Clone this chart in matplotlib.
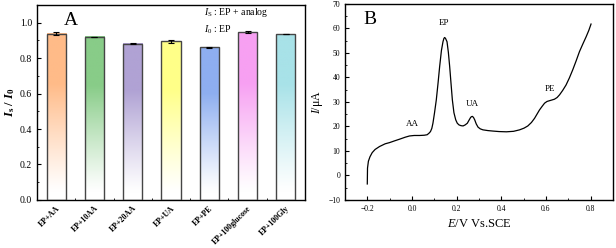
import numpy as np
import matplotlib
matplotlib.use("Agg")
import matplotlib.pyplot as plt
from matplotlib.colors import to_rgb
from matplotlib.ticker import MultipleLocator

plt.rcParams["font.family"] = ["Liberation Serif", "DejaVu Serif"]
plt.rcParams["mathtext.fontset"] = "custom"
plt.rcParams["mathtext.rm"] = "Liberation Serif"
plt.rcParams["mathtext.it"] = "Liberation Serif:italic"
plt.rcParams["mathtext.bf"] = "Liberation Serif:bold"
plt.rcParams["mathtext.bfit"] = "Liberation Serif:bold:italic"

# panel A: selectivity
labels = ["EP+AA", "EP+10AA", "EP+20AA", "EP+UA", "EP+PE", "EP+100glucose", "EP+100Gly"]
ratio = [0.938, 0.921, 0.882, 0.895, 0.860, 0.948, 0.936]
ratio_err = [0.008, 0.001, 0.004, 0.010, 0.004, 0.007, 0.002]
bar_colors = ["#ffbb88", "#88cc88", "#b0a2d4", "#ffff88", "#8eaef0", "#f7a0f2", "#a8e2e8"]

# panel B: DPV curve
potential = [-0.200, -0.199, -0.195, -0.188, -0.178, -0.165, -0.145, -0.120, -0.100, -0.078,
             -0.055, -0.030, -0.011, 0.010, 0.034, 0.055, 0.068, 0.076, 0.083, 0.089,
             0.094, 0.101, 0.109, 0.117, 0.124, 0.132, 0.139, 0.143, 0.146, 0.150,
             0.157, 0.163, 0.169, 0.175, 0.181, 0.188, 0.196, 0.203, 0.211, 0.220,
             0.229, 0.238, 0.248, 0.256, 0.263, 0.267, 0.271, 0.276, 0.281, 0.288,
             0.296, 0.306, 0.318, 0.340, 0.363, 0.390, 0.423, 0.455, 0.482, 0.502,
             0.519, 0.535, 0.549, 0.560, 0.571, 0.583, 0.594, 0.605, 0.616, 0.627,
             0.638, 0.650, 0.661, 0.675, 0.690, 0.705, 0.720, 0.735, 0.750, 0.765,
             0.780, 0.792, 0.802]
current = [-3.5, 3.0, 5.8, 7.6, 9.3, 10.6, 11.8, 12.9, 13.4, 14.1,
           14.8, 15.6, 16.1, 16.3, 16.3, 16.4, 16.6, 17.2, 17.9, 19.2,
           21.3, 25.5, 30.8, 37.8, 44.4, 51.0, 54.6, 55.9, 56.3, 56.0,
           54.6, 50.3, 44.4, 37.5, 30.8, 25.6, 22.7, 21.3, 20.6, 20.3,
           20.2, 20.6, 21.3, 22.6, 23.7, 24.0, 24.1, 23.6, 22.7, 21.0,
           19.7, 19.0, 18.6, 18.3, 18.1, 17.9, 17.8, 18.0, 18.6, 19.3,
           20.2, 21.6, 23.3, 25.0, 26.7, 28.2, 29.5, 30.2, 30.5, 30.8,
           31.1, 31.8, 32.9, 34.7, 36.9, 39.8, 43.1, 46.7, 50.5, 53.6,
           56.6, 59.2, 61.8]
peak_names = ["AA", "EP", "UA", "PE"]
peak_pos = [(0.0, 19.5), (0.145, 60.5), (0.27, 27.5), (0.62, 33.5)]

fig = plt.figure(figsize=(6.16, 2.48), dpi=100)
axA = fig.add_axes([0.060, 0.194, 0.435, 0.786])
axB = fig.add_axes([0.560, 0.194, 0.435, 0.790])

x = np.arange(len(labels))
width = 0.5
axA.bar(x, ratio, width, facecolor="none", edgecolor="#454545", linewidth=1.0, zorder=3)
t = np.linspace(0, 1, 256)
w = np.clip((t - 0.05) / 0.65, 0, 1) ** 1.1
for xi, val, c in zip(x, ratio, bar_colors):
    rgb = np.array(to_rgb(c))
    img = (1 - w)[:, None] * np.ones(3) + w[:, None] * rgb
    axA.imshow(img.reshape(256, 1, 3), extent=(xi - width / 2, xi + width / 2, 0, val),
               origin="lower", aspect="auto", zorder=2)
axA.errorbar(x, ratio, yerr=ratio_err, fmt="none", ecolor="black", elinewidth=0.8,
             capsize=2.5, capthick=0.8, zorder=4)
axA.set_xlim(-0.5, len(labels) - 0.5)
axA.set_ylim(0, 1.1)
axA.set_xticks(x)
axA.set_xticklabels(labels, rotation=45, ha="right", rotation_mode="anchor",
                    fontsize=5.7, fontweight="bold")
axA.xaxis.set_minor_locator(MultipleLocator(0.5))
axA.yaxis.set_major_locator(MultipleLocator(0.2))
axA.yaxis.set_minor_locator(MultipleLocator(0.1))
axA.tick_params(axis="both", which="both", direction="in", labelsize=7)
axA.tick_params(axis="x", labelsize=5.7, pad=3)
axA.tick_params(which="major", length=3)
axA.tick_params(which="minor", length=1.5)
axA.set_ylabel(r"$\mathbfit{I}_{\mathbf{s}}\ \mathbf{/}\ \mathbfit{I}_{\mathbf{0}}$", fontsize=9, labelpad=2)
axA.text(0.10, 0.92, "A", transform=axA.transAxes, fontsize=14, va="center")
axA.text(0.625, 0.96, r"$I_{\mathrm{S}}$ : EP + analog", transform=axA.transAxes, fontsize=7, va="center")
axA.text(0.625, 0.875, r"$I_{0}$ : EP", transform=axA.transAxes, fontsize=7, va="center")
for s in axA.spines.values():
    s.set_linewidth(1.0)

axB.plot(potential, current, color="black", linewidth=0.9)
axB.set_xlim(-0.3, 0.9)
axB.set_ylim(-10, 70)
axB.xaxis.set_major_locator(MultipleLocator(0.2))
axB.xaxis.set_minor_locator(MultipleLocator(0.1))
axB.yaxis.set_major_locator(MultipleLocator(10))
axB.yaxis.set_minor_locator(MultipleLocator(5))
axB.tick_params(axis="both", which="both", direction="in", labelsize=5.5)
axB.tick_params(which="major", length=3)
axB.tick_params(which="minor", length=1.5)
axB.set_xlabel(r"$E$/V Vs.SCE", fontsize=9)
axB.set_ylabel(r"$I$/$\mathrm{\mu}$A", fontsize=8.5, labelpad=2)
axB.text(0.07, 0.92, "B", transform=axB.transAxes, fontsize=14, va="center")
for name, (px, py) in zip(peak_names, peak_pos):
    axB.text(px, py, name, fontsize=6.5, ha="center", va="bottom")
for s in axB.spines.values():
    s.set_linewidth(1.0)

fig.savefig("out.png", dpi=100)
